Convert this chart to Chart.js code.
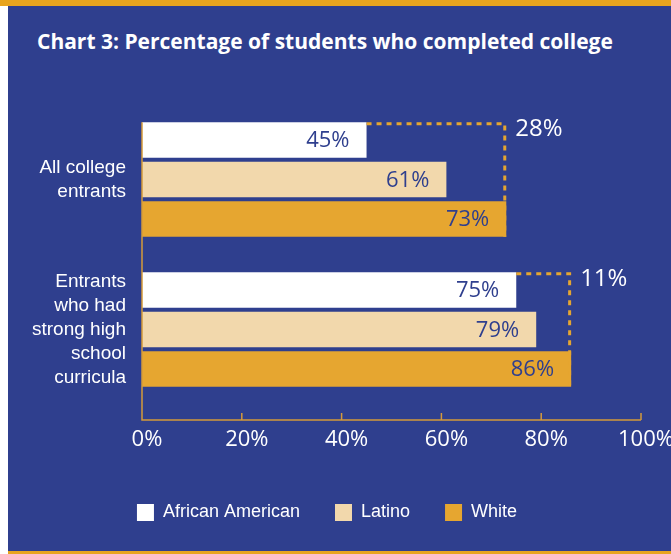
<!DOCTYPE html>
<html>
<head>
<meta charset="utf-8">
<script src="https://cdn.jsdelivr.net/npm/chart.js@4.4.0/dist/chart.umd.min.js"></script>
<style>
  html, body { margin: 0; padding: 0; background: #fff; overflow: hidden; }
  #topline { position: absolute; left: 0; top: 0; width: 671px; height: 6px; background: #e8a41e; }
  #panel { position: absolute; left: 8px; top: 6px; width: 663px; height: 545px; background: #2f3f8e; border-bottom: 3px solid #e8a41e; }
  #title { position: absolute; left: 37px; top: 31px; font: bold 21px/21px "Open Sans", sans-serif; color: #fff; white-space: nowrap; }
  #wrap { position: absolute; left: 0; top: 0; width: 671px; height: 600px; }
</style>
</head>
<body>
<div id="topline"></div>
<div id="panel"></div>
<div id="title">Chart 3: Percentage of students who completed college</div>
<div id="wrap"><canvas id="chart" width="671" height="600"></canvas></div>
<script>
// data
const categories = [['All college', 'entrants'], ['Entrants', 'who had', 'strong high', 'school', 'curricula']];
const seriesNames = ['African American', 'Latino', 'White'];
const africanAmerican = [45, 75];
const latino = [61, 79];
const white = [73, 86];
const xMax = 100;
const xStep = 20;

const blue = '#2f3f8e';
const orange = '#e6a630';
const axisColor = '#d59a3a';
const labelFont = '"Liberation Sans", Arial, sans-serif';
const sans = '"Open Sans", sans-serif';

// axes, value labels and the dotted gap brackets
const gapPlugin = {
  id: 'gaps',
  afterDatasetsDraw(chart) {
    const ctx = chart.ctx;
    const x = chart.scales.x;
    const area = chart.chartArea;
    const aa = chart.getDatasetMeta(0).data;
    const wh = chart.getDatasetMeta(2).data;
    const axisY = area.bottom + 15.5;
    ctx.save();

    ctx.strokeStyle = axisColor;
    ctx.lineWidth = 1.5;
    ctx.beginPath();
    ctx.moveTo(area.left, aa[0].y - aa[0].height / 2);
    ctx.lineTo(area.left, axisY);
    ctx.lineTo(x.getPixelForValue(xMax), axisY);
    x.ticks.forEach(t => {
      if (t.value > 0) {
        const px = x.getPixelForValue(t.value);
        ctx.moveTo(px, axisY);
        ctx.lineTo(px, axisY - 7);
      }
    });
    ctx.stroke();

    ctx.font = '22px ' + sans;
    ctx.fillStyle = blue;
    ctx.textAlign = 'right';
    ctx.textBaseline = 'middle';
    chart.data.datasets.forEach((ds, di) => {
      chart.getDatasetMeta(di).data.forEach((bar, i) => {
        ctx.fillText(ds.data[i] + '%', bar.x - 17, bar.y + 1);
      });
    });

    ctx.strokeStyle = orange;
    ctx.lineWidth = 3;
    ctx.setLineDash([5, 5]);
    ctx.font = '24px ' + sans;
    ctx.fillStyle = '#fff';
    ctx.textAlign = 'left';
    aa.forEach((bar, i) => {
      const top = bar.y - bar.height / 2;
      const x1 = bar.x;
      const x2 = wh[i].x - 1.5;
      const y1 = top + 1.5;
      const y2 = wh[i].y + wh[i].height / 2;
      ctx.beginPath();
      ctx.moveTo(x1, y1);
      ctx.lineTo(x2, y1);
      ctx.lineTo(x2, y2);
      ctx.stroke();
      ctx.fillText((white[i] - africanAmerican[i]) + '%', wh[i].x + 9, top + 7);
    });
    ctx.restore();
  }
};

new Chart(document.getElementById('chart'), {
  type: 'bar',
  data: {
    labels: categories,
    datasets: [
      { label: seriesNames[0], data: africanAmerican, backgroundColor: '#ffffff' },
      { label: seriesNames[1], data: latino, backgroundColor: '#f2d8ac' },
      { label: seriesNames[2], data: white, backgroundColor: orange }
    ].map(d => Object.assign(d, { borderWidth: 0, categoryPercentage: 0.79, barPercentage: 0.9 }))
  },
  options: {
    indexAxis: 'y',
    responsive: false,
    animation: false,
    devicePixelRatio: 1,
    layout: { padding: { left: 13, right: 30, top: 104.5, bottom: 68.5 } },
    plugins: {
      legend: {
        position: 'bottom',
        labels: { color: '#fff', font: { family: labelFont, size: 18 }, boxWidth: 17, boxHeight: 17, padding: 35 }
      },
      tooltip: { enabled: false }
    },
    scales: {
      x: {
        min: 0,
        max: xMax,
        grid: { display: false, drawTicks: false },
        border: { display: false },
        ticks: { stepSize: xStep, callback: v => v + '%', color: '#fff', font: { family: sans, size: 22 }, padding: 22, labelOffset: 5 },
        afterFit: s => { s.height = 64; s.paddingLeft = 0; s.paddingRight = 0; }
      },
      y: {
        grid: { display: false, drawTicks: false },
        border: { display: false },
        ticks: { color: '#fff', font: { family: labelFont, size: 19, lineHeight: '24px' }, padding: 16 },
        afterFit: s => { s.width = 129; }
      }
    }
  },
  plugins: [gapPlugin]
});
</script>
</body>
</html>
